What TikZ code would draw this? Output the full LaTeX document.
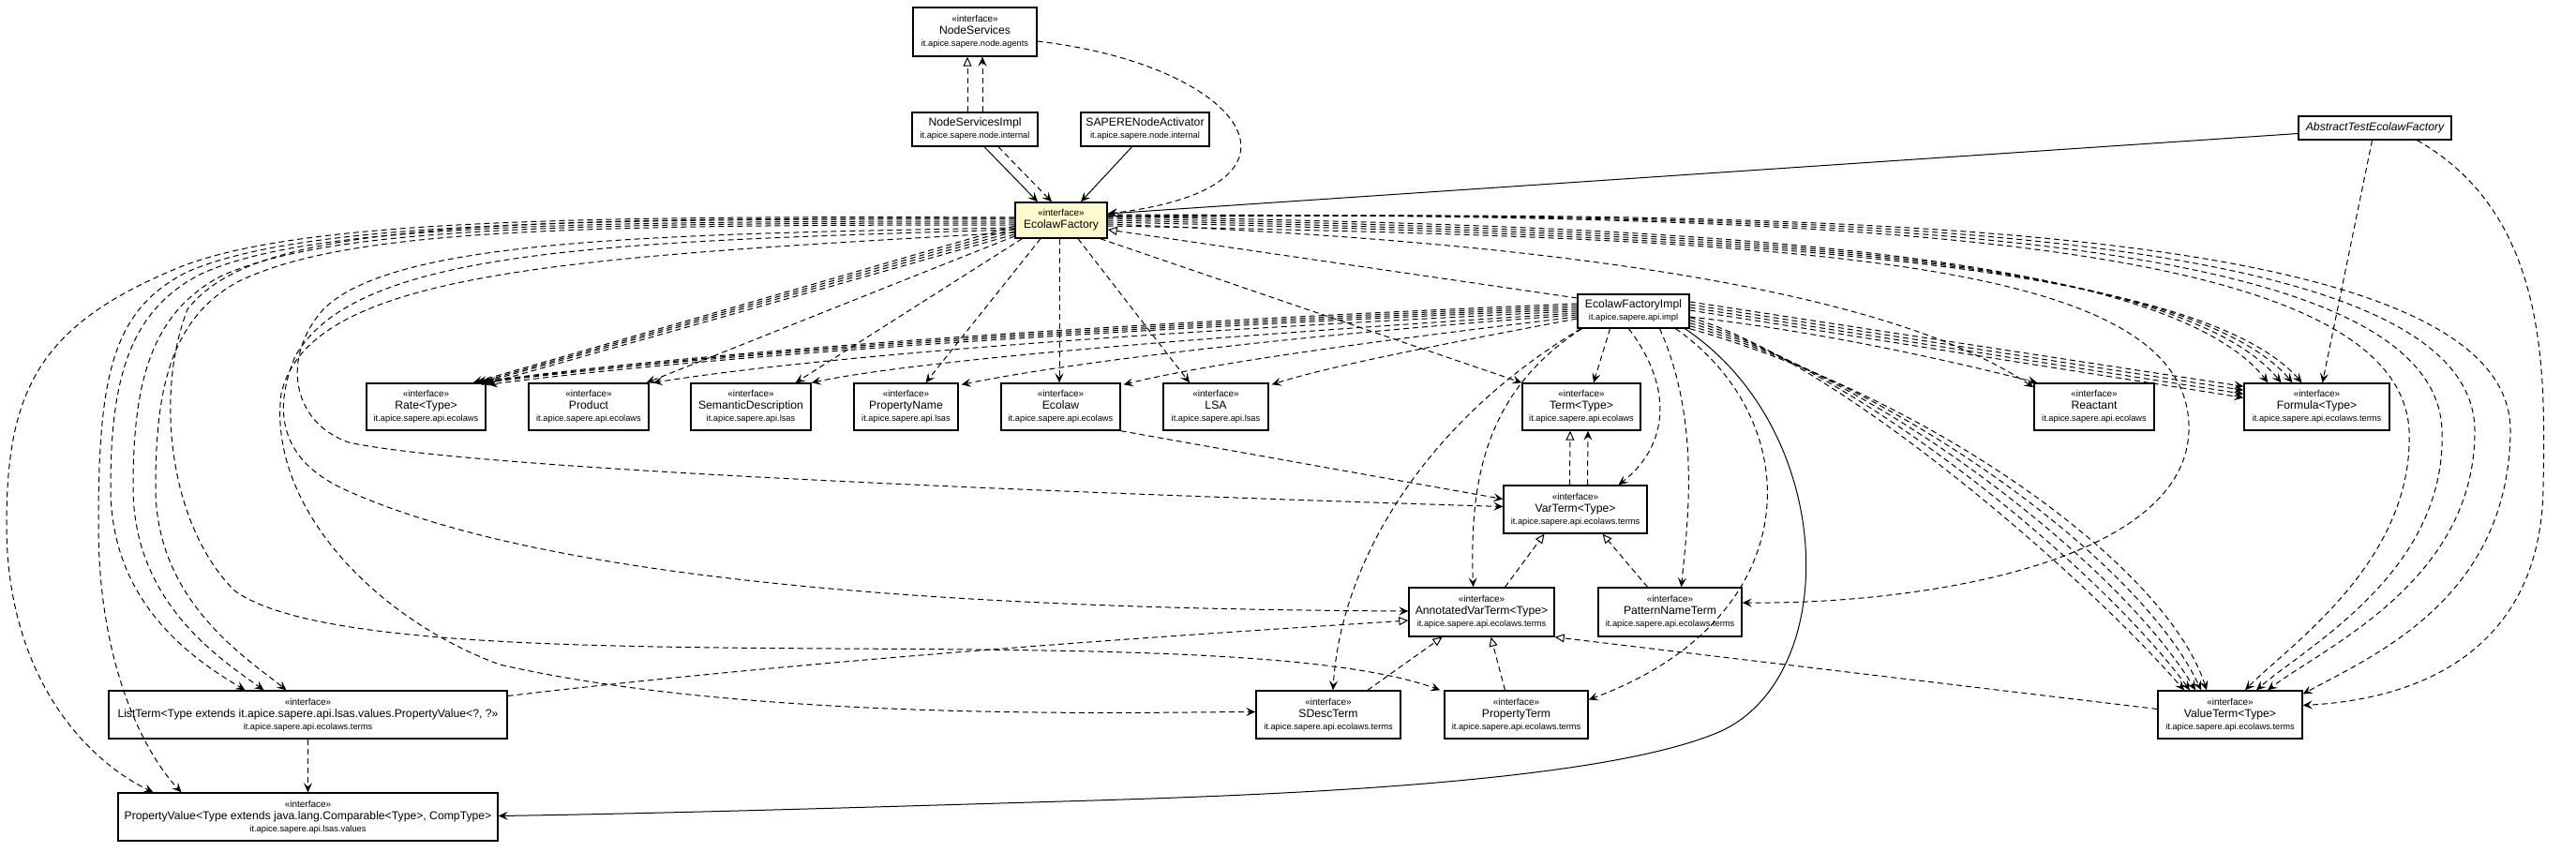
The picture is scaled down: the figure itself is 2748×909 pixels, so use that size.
\documentclass[tikz,border=0pt]{standalone}
\usepackage{fontspec}
\setmainfont{Liberation Sans}
\usepackage{tikz}
\usetikzlibrary{arrows.meta}
\definecolor{UMLyellow}{RGB}{255,250,205}
\newcommand{\iface}[2]{{\fontsize{10}{13}\selectfont «interface»}\\#1\\{\fontsize{9.3}{12}\selectfont #2}}
\newcommand{\klass}[2]{#1\\{\fontsize{9.3}{12}\selectfont #2}}

\begin{document}
\begin{tikzpicture}[x=1pt,y=-1pt,
  b/.style={draw,line width=1.4pt,fill=white,inner sep=0pt,align=center,font=\fontsize{12.2}{13}\selectfont},
  dep/.style={line width=1pt,dash pattern=on 6pt off 4pt,-{Stealth[length=10pt,width=9pt,inset=4pt]}},
  real/.style={line width=1pt,dash pattern=on 6pt off 4pt,-{Triangle[length=10pt,width=9pt,fill=white]}},
  asc/.style={line width=1pt,-{Stealth[length=10pt,width=9pt,inset=4pt]}}]
\useasboundingbox (0,0) rectangle (2748,909);

\node[b,minimum width=132pt,minimum height=52pt] (ns) at (1040,34) {\iface{NodeServices}{it.apice.sapere.node.agents}};
\node[b,minimum width=134pt,minimum height=36pt] (nsi) at (1040,138) {\klass{NodeServicesImpl}{it.apice.sapere.node.internal}};
\node[b,minimum width=137pt,minimum height=36pt] (sna) at (1221.5,138) {\klass{SAPERENodeActivator}{it.apice.sapere.node.internal}};
\node[b,fill=UMLyellow,minimum width=98pt,minimum height=38pt] (ef) at (1132,235) {{\fontsize{10}{13}\selectfont «interface»}\\EcolawFactory};
\node[b,minimum width=163pt,minimum height=25pt] (atef) at (2533.5,136.5) {\itshape AbstractTestEcolawFactory};
\node[b,minimum width=119pt,minimum height=36pt] (efi) at (1742.5,332) {\klass{EcolawFactoryImpl}{it.apice.sapere.api.impl}};

\node[b,minimum width=127pt,minimum height=50pt] (rate) at (454.5,434) {\iface{Rate<Type>}{it.apice.sapere.api.ecolaws}};
\node[b,minimum width=128pt,minimum height=50pt] (prod) at (628,434) {\iface{Product}{it.apice.sapere.api.ecolaws}};
\node[b,minimum width=128pt,minimum height=50pt] (sd) at (801,434) {\iface{SemanticDescription}{it.apice.sapere.api.lsas}};
\node[b,minimum width=111pt,minimum height=50pt] (pn) at (966.5,434) {\iface{PropertyName}{it.apice.sapere.api.lsas}};
\node[b,minimum width=127pt,minimum height=50pt] (eco) at (1131.5,434) {\iface{Ecolaw}{it.apice.sapere.api.ecolaws}};
\node[b,minimum width=112pt,minimum height=50pt] (lsa) at (1297,434) {\iface{LSA}{it.apice.sapere.api.lsas}};
\node[b,minimum width=126pt,minimum height=50pt] (term) at (1687,434) {\iface{Term<Type>}{it.apice.sapere.api.ecolaws}};
\node[b,minimum width=128pt,minimum height=50pt] (reac) at (2234,434) {\iface{Reactant}{it.apice.sapere.api.ecolaws}};
\node[b,minimum width=155pt,minimum height=50pt] (form) at (2471.5,434) {\iface{Formula<Type>}{it.apice.sapere.api.ecolaws.terms}};

\node[b,minimum width=153pt,minimum height=51pt] (vt) at (1680.5,543.5) {\iface{VarTerm<Type>}{it.apice.sapere.api.ecolaws.terms}};
\node[b,minimum width=155pt,minimum height=52pt] (avt) at (1580.5,653) {\iface{AnnotatedVarTerm<Type>}{it.apice.sapere.api.ecolaws.terms}};
\node[b,minimum width=153pt,minimum height=52pt] (pnt) at (1781.5,653) {\iface{PatternNameTerm}{it.apice.sapere.api.ecolaws.terms}};

\node[b,minimum width=425pt,minimum height=51pt] (lt) at (328.5,762.5) {\iface{ListTerm<Type extends it.apice.sapere.api.lsas.values.PropertyValue<?, ?>>}{it.apice.sapere.api.ecolaws.terms}};
\node[b,minimum width=154pt,minimum height=51pt] (sdt) at (1417,762.5) {\iface{SDescTerm}{it.apice.sapere.api.ecolaws.terms}};
\node[b,minimum width=153pt,minimum height=51pt] (pt) at (1617.5,762.5) {\iface{PropertyTerm}{it.apice.sapere.api.ecolaws.terms}};
\node[b,minimum width=154pt,minimum height=51pt] (vat) at (2379,762.5) {\iface{ValueTerm<Type>}{it.apice.sapere.api.ecolaws.terms}};
\node[b,minimum width=405pt,minimum height=51pt] (pv) at (328.5,871.5) {\iface{PropertyValue<Type extends java.lang.Comparable<Type>, CompType>}{it.apice.sapere.api.lsas.values}};

\draw[real] ([xshift=-8pt]nsi.north) -- ([xshift=-8pt]ns.south);
\draw[dep] ([xshift=8pt]nsi.north) -- ([xshift=8pt]ns.south);
\draw[asc] ([xshift=10pt]nsi.south) -- ([xshift=-25pt]ef.north);
\draw[dep] ([xshift=25pt]nsi.south) -- ([xshift=-10pt]ef.north);
\draw[asc] ([xshift=-14pt]sna.south) -- ([xshift=21pt]ef.north);
\draw[dep] ([yshift=-10pt]ns.east) .. controls (1330,70) and (1420,200) .. ([yshift=7pt]ef.east);
\draw[asc] ([yshift=-6pt]atef.west) -- ([yshift=7pt]ef.east);
\draw[real] ([yshift=14pt]efi.west) -- ([yshift=-10pt]ef.east);

\draw[dep] ([yshift=-6pt]ef.west) -- ([xshift=-14pt]rate.north east);
\draw[dep] ([yshift=-9pt]ef.west) -- ([xshift=-9pt]rate.north east);
\draw[dep] ([yshift=-12pt]ef.west) -- ([xshift=-4pt]rate.north east);
\draw[dep] ([yshift=-15pt]ef.west) -- ([xshift=1pt,yshift=-1pt]rate.north east);
\draw[dep] ([yshift=-17pt]ef.west) -- ([xshift=-3pt]prod.north east);
\draw[dep] ([xshift=8pt]ef.south west) -- ([xshift=-17pt]sd.north east);
\draw[dep] ([xshift=-22pt]ef.south) -- ([xshift=21pt]pn.north);
\draw[dep] ([xshift=-2pt]ef.south) -- ([xshift=-1.5pt]eco.north);
\draw[dep] ([xshift=18pt]ef.south) -- ([xshift=-28pt]lsa.north);
\draw[dep] ([xshift=-8pt]ef.south east) -- (term.north west);

\draw[dep] ([yshift=3pt]ef.west) .. controls (600,230) and (300,235) .. (180,290) .. controls (40,350) and (7,420) .. (7,560) .. controls (7,720) and (90,810) .. ([xshift=-165pt]pv.north);
\draw[dep] ([yshift=1pt]ef.west) .. controls (600,233) and (320,238) .. (200,290) .. controls (120,330) and (105,400) .. (105,560) .. controls (105,720) and (160,810) .. ([xshift=-135pt]pv.north);
\draw[dep] ([yshift=-1pt]ef.west) .. controls (600,236) and (330,240) .. (215,292) .. controls (140,330) and (118,400) .. (118,520) .. controls (118,640) and (200,700) .. ([xshift=-67pt]lt.north);
\draw[dep] ([yshift=-3pt]ef.west) .. controls (600,238) and (350,242) .. (235,295) .. controls (160,335) and (142,410) .. (142,520) .. controls (142,640) and (230,700) .. ([xshift=-47pt]lt.north);
\draw[dep] ([yshift=-5pt]ef.west) .. controls (600,240) and (370,245) .. (255,300) .. controls (180,340) and (166,420) .. (166,520) .. controls (166,640) and (260,700) .. ([xshift=-23pt]lt.north);
\draw[dep] ([yshift=-8pt]ef.west) .. controls (700,250) and (420,255) .. (345,330) .. controls (300,380) and (310,450) .. (372,472) .. controls (500,500) and (1100,525) .. ([yshift=3pt]vt.west);
\draw[dep] ([yshift=-10pt]ef.west) .. controls (650,258) and (380,265) .. (315,380) .. controls (290,440) and (300,490) .. (365,521) .. controls (600,630) and (1100,650) .. ([yshift=1pt]avt.west);
\draw[dep] ([yshift=-13pt]ef.west) .. controls (600,275) and (330,290) .. (300,420) .. controls (285,540) and (400,660) .. (533,709) .. controls (800,770) and (1200,760) .. ([yshift=3pt]sdt.west);
\draw[dep] ([yshift=2pt]ef.west) .. controls (500,232) and (270,240) .. (200,330) .. controls (165,420) and (180,560) .. (250,630) .. controls (400,740) and (1300,650) .. ([xshift=-4pt]pt.north west);
\draw[real] ([yshift=20pt]lt.east) .. controls (900,700) and (1300,675) .. ([yshift=-9pt]avt.west);
\draw[dep] (lt.south) -- (pv.north);

\draw[dep] ([yshift=8pt]efi.west) .. controls (1300,340) and (800,368) .. ([xshift=-12pt]rate.north east);
\draw[dep] ([yshift=6pt]efi.west) .. controls (1300,342) and (800,370) .. ([xshift=-7pt]rate.north east);
\draw[dep] ([yshift=4pt]efi.west) .. controls (1300,344) and (800,372) .. ([xshift=-2pt]rate.north east);
\draw[dep] ([yshift=2pt]efi.west) .. controls (1300,346) and (800,374) .. ([xshift=2pt,yshift=-2pt]rate.north east);
\draw[dep] (efi.west) .. controls (1300,350) and (900,376) .. ([xshift=4pt]prod.north east);
\draw[dep] ([yshift=-2pt]efi.west) .. controls (1400,352) and (1000,380) .. (sd.north east);
\draw[dep] ([yshift=-4pt]efi.west) .. controls (1400,356) and (1150,385) .. ([xshift=3pt,yshift=-2pt]pn.north east);
\draw[dep] ([yshift=-6pt]efi.west) .. controls (1500,360) and (1300,385) .. ([xshift=3pt,yshift=-2pt]eco.north east);
\draw[dep] ([yshift=-8pt]efi.west) .. controls (1550,365) and (1420,390) .. ([xshift=3pt,yshift=-2pt]lsa.north east);
\draw[dep] ([xshift=-25pt]efi.south) -- ([xshift=13pt]term.north);
\draw[dep] ([xshift=-5pt]efi.south) .. controls (1790,420) and (1775,480) .. ([xshift=46pt]vt.north);
\draw[dep] ([xshift=-55pt]efi.south) .. controls (1580,420) and (1568,520) .. ([xshift=-9pt]avt.north);
\draw[dep] ([xshift=4pt]efi.south west) .. controls (1520,450) and (1430,600) .. ([xshift=5pt]sdt.north);
\draw[dep] ([xshift=28pt]efi.south) .. controls (1815,450) and (1800,560) .. ([xshift=12pt]pnt.north);
\draw[dep] ([xshift=45pt]efi.south) .. controls (1930,450) and (1930,660) .. ([yshift=16pt]pt.east);
\draw[asc] ([xshift=55pt]efi.south) .. controls (1960,460) and (1965,720) .. (1836,780) .. controls (1700,840) and (1300,850) .. (1100,856) .. controls (900,862) and (700,868) .. ([yshift=1pt]pv.east);
\draw[dep] ([yshift=12pt]efi.south east) .. controls (1950,380) and (2210,600) .. ([xshift=-49pt]vat.north);
\draw[dep] ([yshift=9pt]efi.south east) .. controls (1975,390) and (2235,600) .. ([xshift=-43pt]vat.north);
\draw[dep] ([yshift=6pt]efi.south east) .. controls (2000,400) and (2260,600) .. ([xshift=-37pt]vat.north);
\draw[dep] ([yshift=3pt]efi.south east) .. controls (2025,410) and (2285,600) .. ([xshift=-31pt]vat.north);
\draw[dep] (efi.south east) .. controls (2050,420) and (2310,600) .. ([xshift=-25pt]vat.north);
\draw[dep] ([yshift=-6pt]efi.east) .. controls (1950,355) and (2080,385) .. ([xshift=4pt]reac.north west);
\draw[dep] ([yshift=10pt]efi.east) -- ([yshift=-4pt]form.north west);
\draw[dep] ([yshift=7pt]efi.east) -- ([yshift=-8pt]form.north west);
\draw[dep] ([yshift=4pt]efi.east) -- ([yshift=-12pt]form.north west);
\draw[dep] ([yshift=1pt]efi.east) -- ([yshift=-16pt]form.north west);

\draw[dep] ([yshift=4pt]ef.east) .. controls (1700,240) and (2300,255) .. ([xshift=-52pt]form.north);
\draw[dep] ([yshift=2pt]ef.east) .. controls (1700,243) and (2310,258) .. ([xshift=-38pt]form.north);
\draw[dep] (ef.east) .. controls (1700,246) and (2320,261) .. ([xshift=-26pt]form.north);
\draw[dep] ([yshift=-2pt]ef.east) .. controls (1700,249) and (2330,264) .. ([xshift=-16pt]form.north);
\draw[dep] ([yshift=-4pt]ef.east) .. controls (1600,255) and (2000,300) .. ([yshift=-5pt]reac.north west);
\draw[dep] ([yshift=-6pt]ef.east) .. controls (1900,255) and (2340,270) .. (2335,460) .. controls (2330,600) and (2050,645) .. ([yshift=10pt]pnt.east);
\draw[dep] ([yshift=6pt]ef.east) .. controls (1900,230) and (2560,240) .. (2570,460) .. controls (2575,600) and (2440,690) .. ([xshift=16pt]vat.north);
\draw[dep] ([yshift=5pt]ef.east) .. controls (1900,228) and (2600,236) .. (2605,460) .. controls (2610,610) and (2460,690) .. ([xshift=28pt]vat.north);
\draw[dep] ([yshift=4pt]ef.east) .. controls (1900,226) and (2640,232) .. (2640,460) .. controls (2640,620) and (2480,690) .. ([xshift=40pt]vat.north);
\draw[dep] ([yshift=3pt]ef.east) .. controls (1900,224) and (2680,228) .. (2678,460) .. controls (2676,640) and (2530,700) .. ([yshift=22pt]vat.east);
\draw[dep] ([xshift=-3pt]atef.south) -- ([xshift=6pt]form.north);
\draw[dep] ([xshift=45pt]atef.south) .. controls (2720,230) and (2715,400) .. (2713,520) .. controls (2711,680) and (2600,745) .. ([yshift=10pt]vat.east);

\draw[dep] (eco.south east) -- ([yshift=11pt]vt.west);
\draw[real] ([xshift=-6pt]vt.north) -- ([xshift=-12pt]term.south);
\draw[dep] ([xshift=13pt]vt.north) -- ([xshift=7pt]term.south);
\draw[real] ([xshift=25pt]avt.north) -- ([xshift=-33pt]vt.south);
\draw[real] ([xshift=-24pt]pnt.north) -- ([xshift=29pt]vt.south);
\draw[real] ([xshift=42pt]sdt.north) -- ([xshift=-42pt]avt.south);
\draw[real] ([xshift=-12pt]pt.north) -- ([xshift=10pt]avt.south);
\draw[real] ([yshift=6pt]vat.west) -- (avt.south east);
\end{tikzpicture}
\end{document}
